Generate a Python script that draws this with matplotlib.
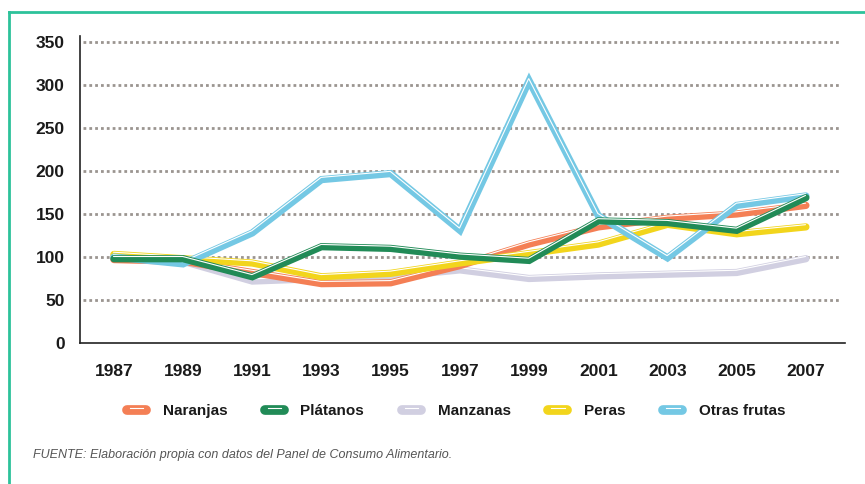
import matplotlib
matplotlib.use("Agg")
import matplotlib.pyplot as plt
import matplotlib.transforms as mtransforms
from matplotlib.lines import Line2D
from matplotlib.legend_handler import HandlerLine2D

plt.rcParams['font.family'] = ['Liberation Sans', 'DejaVu Sans']

years = [1987, 1989, 1991, 1993, 1995, 1997, 1999, 2001, 2003, 2005, 2007]
naranjas = [97, 95, 82, 69, 70, 90, 115, 135, 145, 150, 160]
platanos = [98, 98, 77, 112, 110, 101, 96, 142, 140, 131, 169]
manzanas = [102, 95, 72, 75, 77, 85, 75, 78, 80, 82, 98]
peras = [103, 98, 93, 77, 81, 93, 104, 115, 138, 127, 135]
otras = [100, 92, 128, 190, 197, 131, 305, 148, 99, 160, 171]

series_names = ["Naranjas", "Plátanos", "Manzanas", "Peras", "Otras frutas"]
colors = {"Naranjas": "#f47f55", "Plátanos": "#218b57", "Manzanas": "#d1cfe1",
          "Peras": "#f2d51c", "Otras frutas": "#74c8e4"}
data = {"Naranjas": naranjas, "Plátanos": platanos, "Manzanas": manzanas,
        "Peras": peras, "Otras frutas": otras}
draw_order = ["Manzanas", "Naranjas", "Peras", "Otras frutas", "Plátanos"]

fig = plt.figure(figsize=(8.65, 4.84), dpi=100)
ax = fig.add_axes([80/865, 1-343/484, (845-80)/865, (343-36)/484])

ax.set_ylim(0, 357)
ax.set_xlim(1986.02, 2008.13)

for y in [50, 100, 150, 200, 250, 300, 350]:
    ax.plot([1986.1, 2008.0], [y, y], color="#9b9590", lw=2.0,
            linestyle=(0, (1, 1.1)), zorder=1, solid_capstyle='butt',
            dash_capstyle='butt')

offset = mtransforms.offset_copy(ax.transData, fig=fig, x=-0.3, y=1.6, units='points')
for i, name in enumerate(draw_order):
    ax.plot(years, data[name], color=colors[name], lw=5.2, solid_capstyle='round',
            solid_joinstyle='miter', zorder=3 + i * 2)
    ax.plot(years, data[name], color="white", lw=0.8, solid_capstyle='round',
            solid_joinstyle='miter', zorder=3 + i * 2 + 1, transform=offset)

for s in ["top", "right"]:
    ax.spines[s].set_visible(False)
ax.spines["left"].set_linewidth(1.2)
ax.spines["bottom"].set_linewidth(1.2)
ax.spines["left"].set_color("#222222")
ax.spines["bottom"].set_color("#222222")

ax.set_yticks([0, 50, 100, 150, 200, 250, 300, 350])
ax.set_xticks(years)
ax.tick_params(axis='both', length=0, labelsize=12.5)
ax.tick_params(axis='y', pad=11)
ax.tick_params(axis='x', pad=15)
for lab in ax.get_xticklabels() + ax.get_yticklabels():
    lab.set_fontweight('bold')
    lab.set_color("#1a1a1a")


class HandlerHighlight(HandlerLine2D):
    def create_artists(self, legend, orig_handle, xdescent, ydescent, width, height, fontsize, trans):
        y = height / 2 - ydescent
        l1 = Line2D([0 - xdescent + 3, width - xdescent - 3], [y, y], color=orig_handle.get_color(),
                    lw=7, solid_capstyle='round', transform=trans)
        l2 = Line2D([2 - xdescent + 3, width - xdescent - 5], [y + 1.5, y + 1.5], color='white',
                    lw=0.8, transform=trans)
        return [l1, l2]


handles = [Line2D([0], [0], color=colors[n]) for n in series_names]
leg = fig.legend(handles, series_names, loc='center', bbox_to_anchor=(454/865, 1-411/484),
                 ncol=5, frameon=False, handlelength=1.8, handletextpad=0.8, columnspacing=2.2,
                 prop={'weight': 'bold', 'size': 11},
                 handler_map={Line2D: HandlerHighlight()})
for t in leg.get_texts():
    t.set_color("#1a1a1a")

fig.text(33/865, 1-455/484, "FUENTE: Elaboración propia con datos del Panel de Consumo Alimentario.",
         fontsize=9, style='italic', color="#555555", va='center', ha='left')

border = "#2dc29a"
fig.add_artist(Line2D([9/865, 1.0], [1-12/484, 1-12/484], color=border, lw=2, transform=fig.transFigure))
fig.add_artist(Line2D([9/865, 9/865], [0, 1-12/484], color=border, lw=2, transform=fig.transFigure))

fig.savefig("out.png", dpi=100)
